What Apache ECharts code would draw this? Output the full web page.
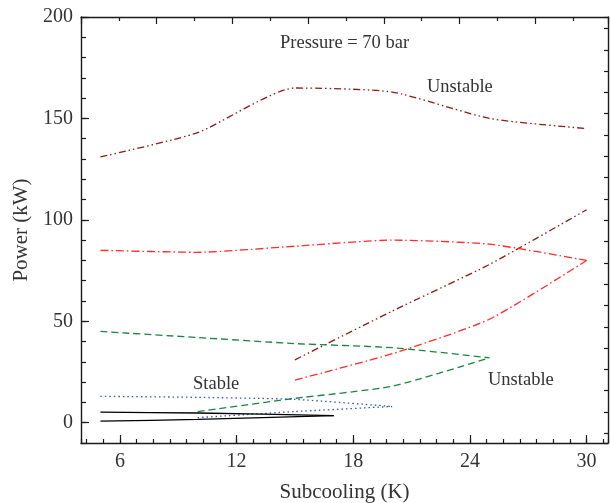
<!DOCTYPE html>
<html>
<head>
<meta charset="utf-8">
<script src="https://cdn.jsdelivr.net/npm/echarts@6/dist/echarts.min.js"></script>
<style>
  html, body { margin: 0; padding: 0; background: #fff; }
  #chart { width: 611px; height: 503px; }
</style>
</head>
<body>
<div id="chart"></div>
<script>
// Subcooling (K) / power (kW) pairs for each operating curve
const darkRedUpperX = [5, 10, 15, 20, 25, 30];
const darkRedUpperY = [131, 143, 165, 163, 150, 145];
const darkRedRiseX = [15, 20, 25, 30];
const darkRedRiseY = [31, 55, 78, 105];

const redUpperX = [5, 10, 15, 20, 25, 30];
const redUpperY = [85, 84, 87, 90, 88, 80];
const redRiseX = [15, 20, 25, 30];
const redRiseY = [21, 34, 51, 80];

const greenUpperX = [5, 10, 15, 20, 25];
const greenUpperY = [45, 42, 39, 37, 32];
const greenRiseX = [10, 15, 20, 25];
const greenRiseY = [5.5, 12, 18, 32];

const blueUpperX = [5, 10, 15, 20];
const blueUpperY = [13, 12.5, 11.5, 8];
const blueLowerX = [10, 15, 20];
const blueLowerY = [2.5, 5.5, 8];

const blackUpperX = [5, 10, 17];
const blackUpperY = [5.2, 4.8, 3.5];
const blackLowerX = [5, 10, 17];
const blackLowerY = [0.8, 1.6, 3.5];

// Axis ranges and tick steps
const xRange = [4, 31.1];
const xMajorStep = 6;
const yRange = [-10, 200];
const yMajorStep = 50;
const yMinorStep = 10;

const FONT = 'Liberation Serif';
const INK = '#1a1a1a';
const TEXT = '#333';

const zip = (xs, ys) => xs.map((x, i) => [x, ys[i]]);

function curve(xs, ys, color, dash) {
  return {
    type: 'line',
    xAxisIndex: 0,
    yAxisIndex: 0,
    data: zip(xs, ys),
    showSymbol: false,
    smooth: 0.2,
    lineStyle: { color: color, width: 1.3, type: dash },
    silent: true
  };
}

const DASH2DOT = [7, 3, 1.5, 3, 1.5, 3];
const DASHDOT = [8, 3, 1.5, 3];
const DASHED = [7, 4];
const DOTTED = [1.5, 3];

const frameLine = { show: true, onZero: false, lineStyle: { color: INK, width: 1.4 } };
const tickStyle = { color: INK, width: 1.2 };

const chart = echarts.init(document.getElementById('chart'), null, { renderer: 'canvas' });

chart.setOption({
  animation: false,
  backgroundColor: '#fff',
  grid: { left: 81, right: 3, top: 17, bottom: 60, containLabel: false, outerBoundsMode: 'none' },
  xAxis: [
    {
      type: 'value', position: 'bottom',
      min: xRange[0], max: xRange[1],
      minInterval: xMajorStep, maxInterval: xMajorStep,
      axisLine: frameLine,
      axisTick: { inside: true, length: 8, lineStyle: tickStyle },
      axisLabel: {
        showMinLabel: false, showMaxLabel: false,
        fontFamily: FONT, fontSize: 20, color: TEXT, margin: 9,
        formatter: v => (Math.abs(v / xMajorStep - Math.round(v / xMajorStep)) < 1e-6 ? String(v) : '')
      },
      splitLine: { show: false },
      name: 'Subcooling (K)', nameLocation: 'middle', nameGap: 39,
      nameTextStyle: { fontFamily: FONT, fontSize: 21, color: TEXT }
    },
    {
      // minor ticks: seven per major step
      type: 'value', position: 'bottom',
      min: xRange[0] * 7 / xMajorStep, max: xRange[1] * 7 / xMajorStep,
      minInterval: 1, maxInterval: 1,
      axisLine: { show: false, onZero: false },
      axisTick: { inside: true, length: 4, lineStyle: tickStyle },
      axisLabel: { show: false },
      splitLine: { show: false }
    },
    {
      // top frame
      type: 'value', position: 'top',
      min: 0, max: 13.92, interval: 2,
      axisLine: frameLine,
      axisTick: { inside: true, length: 7, lineStyle: tickStyle },
      minorTick: { show: true, splitNumber: 2, length: 4, lineStyle: tickStyle },
      axisLabel: { show: false },
      splitLine: { show: false }
    }
  ],
  yAxis: [
    {
      type: 'value', position: 'left',
      min: yRange[0], max: yRange[1],
      minInterval: yMajorStep, maxInterval: yMajorStep,
      axisLine: frameLine,
      axisTick: { inside: true, length: 8, lineStyle: tickStyle },
      axisLabel: {
        showMinLabel: false,
        fontFamily: FONT, fontSize: 20, color: TEXT, margin: 8,
        formatter: v => (Math.abs(v / yMajorStep - Math.round(v / yMajorStep)) < 1e-6 ? String(v) : '')
      },
      splitLine: { show: false },
      name: 'Power (kW)', nameLocation: 'middle', nameGap: 49, nameRotate: 90,
      nameTextStyle: { fontFamily: FONT, fontSize: 21, color: TEXT }
    },
    {
      type: 'value', position: 'left',
      min: yRange[0], max: yRange[1],
      minInterval: yMinorStep, maxInterval: yMinorStep,
      axisLine: { show: false, onZero: false },
      axisTick: { inside: true, length: 5, lineStyle: tickStyle },
      axisLabel: { show: false },
      splitLine: { show: false }
    },
    {
      // right frame
      type: 'value', position: 'right',
      min: -0.455, max: 19.54,
      minInterval: 1, maxInterval: 1,
      axisLine: frameLine,
      axisTick: { inside: true, length: 4, lineStyle: tickStyle },
      axisLabel: { show: false },
      splitLine: { show: false }
    }
  ],
  series: [
    curve(darkRedUpperX, darkRedUpperY, '#8b1a1a', DASH2DOT),
    curve(darkRedRiseX, darkRedRiseY, '#8b1a1a', DASH2DOT),
    curve(redUpperX, redUpperY, '#ff2a2a', DASHDOT),
    curve(redRiseX, redRiseY, '#ff2a2a', DASHDOT),
    curve(greenUpperX, greenUpperY, '#1c8440', DASHED),
    curve(greenRiseX, greenRiseY, '#1c8440', DASHED),
    curve(blueUpperX, blueUpperY, '#3552b8', DOTTED),
    curve(blueLowerX, blueLowerY, '#3552b8', DOTTED),
    curve(blackUpperX, blackUpperY, '#000', 'solid'),
    curve(blackLowerX, blackLowerY, '#000', 'solid')
  ],
  graphic: [
    { type: 'text', left: 280, top: 34, style: { text: 'Pressure = 70 bar', font: '18.5px "Liberation Serif"', fill: TEXT } },
    { type: 'text', left: 427, top: 78, style: { text: 'Unstable', font: '18.5px "Liberation Serif"', fill: TEXT } },
    { type: 'text', left: 193, top: 375, style: { text: 'Stable', font: '18.5px "Liberation Serif"', fill: TEXT } },
    { type: 'text', left: 488, top: 371, style: { text: 'Unstable', font: '18.5px "Liberation Serif"', fill: TEXT } }
  ]
});
</script>
</body>
</html>
